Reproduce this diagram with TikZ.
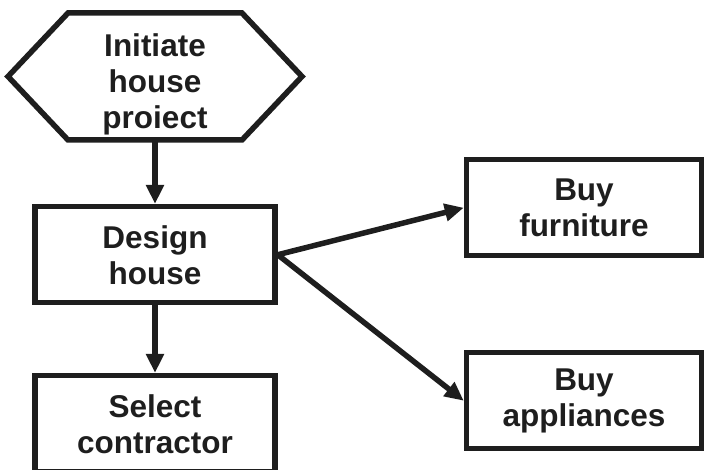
\documentclass[tikz,border=0pt]{standalone}
\usepackage{fontspec}
\setmainfont{Liberation Sans}
\usetikzlibrary{arrows.meta, positioning}
\definecolor{ink}{RGB}{30,30,30}

\begin{document}
\begin{tikzpicture}[
    x=1pt, y=1pt,
    node distance = 64pt and 186pt,
    punkt/.style = {rectangle, draw=ink, text=ink, line width=5.5pt, minimum width=240pt, minimum height=96pt, align=center},
    hexa/.style = {rectangle, text=ink, line width=5.5pt, outer sep=0pt, minimum width=174pt, minimum height=127pt, align=center, text height=105pt, text depth=0pt},
    pil/.style = {ink, line width=5.5pt, -{Triangle[length=19pt, width=17pt]}},
    font=\fontsize{31.5}{36}\selectfont\bfseries
    ]
  \useasboundingbox (0,0) rectangle (704,470);

  \node[hexa] (init) at (155,393.5) {Initiate\\house\\proiect} ;
  \draw[ink, line width=5.5pt] (init.north west) -- (init.north east) -- ([xshift=60pt]init.east)
    -- (init.south east) -- (init.south west) -- ([xshift=-60pt]init.west) -- cycle;

  \node[punkt] (design) [below=of init] {Design\\house} ;
  \node[punkt] (contractor) [below=67.5pt of design] {Select\\contractor} ;
  \node[punkt,minimum width=235pt] (furniture) [right=of design, yshift=47pt] {Buy\\furniture} ;
  \node[punkt,minimum width=235pt] (appliances) [right=of design, yshift=-146pt] {Buy\\appliances} ;

  \draw[pil]
  (init) edge (design)
  (design) edge (contractor);
  \draw[pil] (design.east) -- (furniture.west);
  \draw[pil] (design.east) -- (appliances.west);
\end{tikzpicture}
\end{document}
